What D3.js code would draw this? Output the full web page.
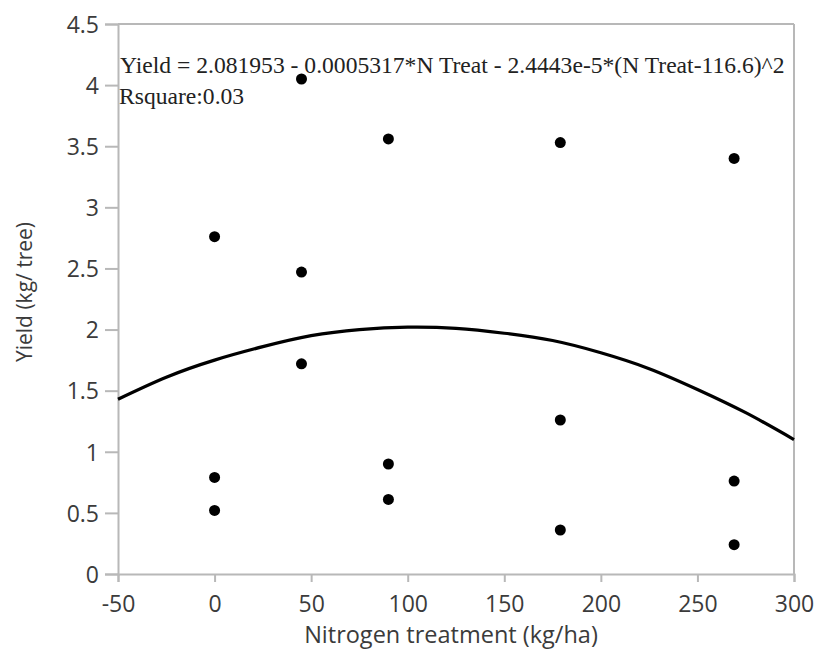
<!DOCTYPE html>
<html>
<head>
<meta charset="utf-8">
<script src="https://cdn.jsdelivr.net/npm/d3@7"></script>
<style>
  html, body { margin: 0; padding: 0; background: #fff; }
  svg { display: block; }
</style>
</head>
<body>
<svg id="chart" width="818" height="655"></svg>
<script>
// ---- data ----
const nTreat   = [0, 0, 0, 45, 45, 45, 90, 90, 90, 179, 179, 179, 269, 269, 269];
const yieldVal = [2.76, 0.79, 0.52, 4.05, 2.47, 1.72, 3.56, 0.90, 0.61, 3.53, 1.26, 0.36, 3.40, 0.76, 0.24];
// fitted curve
const fitX = [-50, -25, 0, 25, 50, 75, 100, 125, 150, 175, 200, 225, 250, 275, 300];
const fitY = [1.43, 1.61, 1.75, 1.86, 1.95, 2.00, 2.02, 2.01, 1.97, 1.91, 1.81, 1.68, 1.51, 1.32, 1.10];
const xTicks = [-50, 0, 50, 100, 150, 200, 250, 300];
const yTicks = [0, 0.5, 1, 1.5, 2, 2.5, 3, 3.5, 4, 4.5];
const equationText = "Yield = 2.081953 - 0.0005317*N Treat - 2.4443e-5*(N Treat-116.6)^2";
const rsquareText = "Rsquare:0.03";
const xTitle = "Nitrogen treatment (kg/ha)";
const yTitle = "Yield (kg/ tree)";

// ---- layout ----
const W = 818, H = 655;
const m = {left: 118, right: 24, top: 24, bottom: 81};
const svg = d3.select("#chart");
const x = d3.scaleLinear().domain([-50, 300]).range([m.left, W - m.right]);
const y = d3.scaleLinear().domain([0, 4.5]).range([H - m.bottom, m.top]);

const axisColor = "#b8b8b8";
const labelColor = "#3b3b3b";
const sans = "'Open Sans', 'Noto Sans', sans-serif";
const serif = "'Liberation Serif', 'Times New Roman', serif";

// frame (top and right)
svg.append("line").attr("x1", x(-50)).attr("x2", x(300)).attr("y1", y(4.5)).attr("y2", y(4.5))
  .attr("stroke", axisColor).attr("stroke-width", 2);
svg.append("line").attr("x1", x(300)).attr("x2", x(300)).attr("y1", y(0)).attr("y2", y(4.5))
  .attr("stroke", axisColor).attr("stroke-width", 2);

// x axis
const gx = svg.append("g").attr("transform", `translate(0,${y(0)})`)
  .call(d3.axisBottom(x).tickValues(xTicks).tickSize(8).tickPadding(14).tickFormat(d => String(d)));
// y axis
const gy = svg.append("g").attr("transform", `translate(${x(-50)},0)`)
  .call(d3.axisLeft(y).tickValues(yTicks).tickSize(13).tickPadding(6).tickFormat(d => String(d)));

[gx, gy].forEach(g => {
  g.select(".domain").attr("stroke", axisColor).attr("stroke-width", 2);
  g.selectAll(".tick line").attr("stroke", axisColor).attr("stroke-width", 2);
  g.selectAll(".tick text").attr("fill", labelColor).attr("font-family", sans).attr("font-size", 23);
});
gx.selectAll(".tick text").attr("dy", "0.71em");
gy.selectAll(".tick text").attr("dy", "0.36em");

// fitted curve
const line = d3.line().x(d => x(d[0])).y(d => y(d[1])).curve(d3.curveNatural);
svg.append("path").datum(d3.zip(fitX, fitY)).attr("d", line)
  .attr("fill", "none").attr("stroke", "#000").attr("stroke-width", 3.2);

// points
svg.append("g").selectAll("circle").data(d3.zip(nTreat, yieldVal)).join("circle")
  .attr("cx", d => x(d[0])).attr("cy", d => y(d[1])).attr("r", 5.5).attr("fill", "#000");

// equation text
svg.append("text").attr("x", 120).attr("y", 73).text(equationText)
  .attr("font-family", serif).attr("font-size", 23.6).attr("fill", "#222");
svg.append("text").attr("x", 119).attr("y", 104).text(rsquareText)
  .attr("font-family", serif).attr("font-size", 23.6).attr("fill", "#222");

// axis titles
svg.append("text").attr("x", 451).attr("y", 643)
  .attr("text-anchor", "middle").attr("font-family", sans).attr("font-size", 23.5)
  .attr("fill", labelColor).text(xTitle);
svg.append("text").attr("transform", `translate(32,292) rotate(-90)`)
  .attr("text-anchor", "middle").attr("font-family", sans).attr("font-size", 21)
  .attr("fill", labelColor).text(yTitle);
</script>
</body>
</html>
